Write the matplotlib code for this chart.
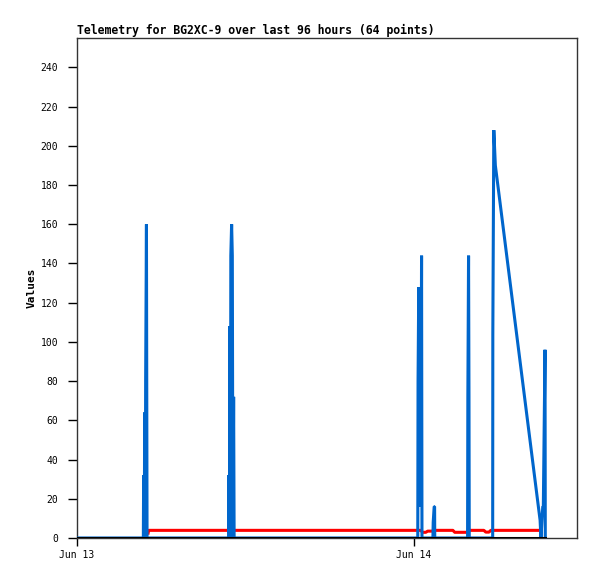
import datetime as dt
import matplotlib
matplotlib.use("Agg")
import matplotlib.pyplot as plt
import matplotlib.dates as mdates

# telemetry; time is hours after Jun 13 00:00
start = dt.datetime(2024, 6, 13)
span_hours = 35.64

ch1_hours = [0.0,
             4.729, 4.75, 4.80, 4.821, 4.871, 4.893, 4.95, 4.971, 4.993,
             10.807, 10.821, 10.871, 10.893, 10.943, 10.964, 11.021, 11.071,
             11.114, 11.164, 11.20,
             24.29, 24.31, 24.36, 24.41, 24.45, 24.51, 24.56, 24.59,
             25.37, 25.39, 25.46, 25.49, 25.50,
             27.84, 27.86, 27.91, 27.94, 27.96,
             29.63, 29.64, 29.71, 29.82,
             33.01, 33.07, 33.20, 33.24, 33.36, 33.38]
ch1_values = [0,
              0, 32, 0, 64, 0, 80, 160, 80, 0,
              0, 32, 0, 108, 0, 144, 160, 144,
              0, 72, 0,
              0, 80, 128, 32, 112, 16, 144, 0,
              0, 8, 16, 16, 0,
              0, 72, 144, 72, 0,
              0, 104, 208, 190,
              9, 0, 16, 16, 96, 0]

ch2_hours = [5.07, 5.11, 24.50, 24.64, 24.86, 25.00, 25.29, 25.43, 26.79,
             26.93, 27.79, 27.93, 29.00, 29.14, 29.36, 29.50, 33.00]
ch2_values = [2.5, 3.9, 3.9, 2.9, 2.9, 3.5, 3.5, 3.9, 3.9,
              2.9, 2.9, 3.9, 3.9, 3.0, 3.0, 3.9, 3.9]

ch3_hours = [0.0, 33.36]
ch3_values = [0, 0]


def to_dates(hours):
    return [start + dt.timedelta(hours=h) for h in hours]


mono = "DejaVu Sans Mono"
fig = plt.figure(figsize=(5.97, 5.79), dpi=100)
ax = fig.add_axes([77 / 597, 41 / 579, 500 / 597, 500 / 579])

ax.plot(to_dates(ch2_hours), ch2_values, color="#ff0000", lw=2.2, zorder=2)
ax.plot(to_dates(ch1_hours), ch1_values, color="#0066cc", lw=2.2, zorder=3,
        solid_joinstyle="bevel")
ax.plot(to_dates(ch3_hours), ch3_values, color="black", lw=2.2, zorder=4)

ax.set_xlim(start, start + dt.timedelta(hours=span_hours))
ax.set_ylim(0, 255)
ax.set_yticks(range(0, 241, 20))
ax.xaxis.set_major_locator(mdates.DayLocator())
ax.xaxis.set_major_formatter(mdates.DateFormatter("%b %d"))

ax.tick_params(direction="out", width=1, colors="black", labelsize=7)
ax.tick_params(axis="y", length=6.5, pad=7)
ax.tick_params(axis="x", length=5.5, pad=3)
for lab in ax.get_xticklabels() + ax.get_yticklabels():
    lab.set_family(mono)
for sp in ax.spines.values():
    sp.set_color("#333333")
    sp.set_linewidth(1)

ax.set_ylabel("Values", family=mono, fontweight="bold", fontsize=8,
              labelpad=3)
ax.set_title("Telemetry for BG2XC-9 over last 96 hours (64 points)",
             loc="left", family=mono, fontweight="bold", fontsize=8.3, pad=3)

fig.savefig("out.png", dpi=100)
